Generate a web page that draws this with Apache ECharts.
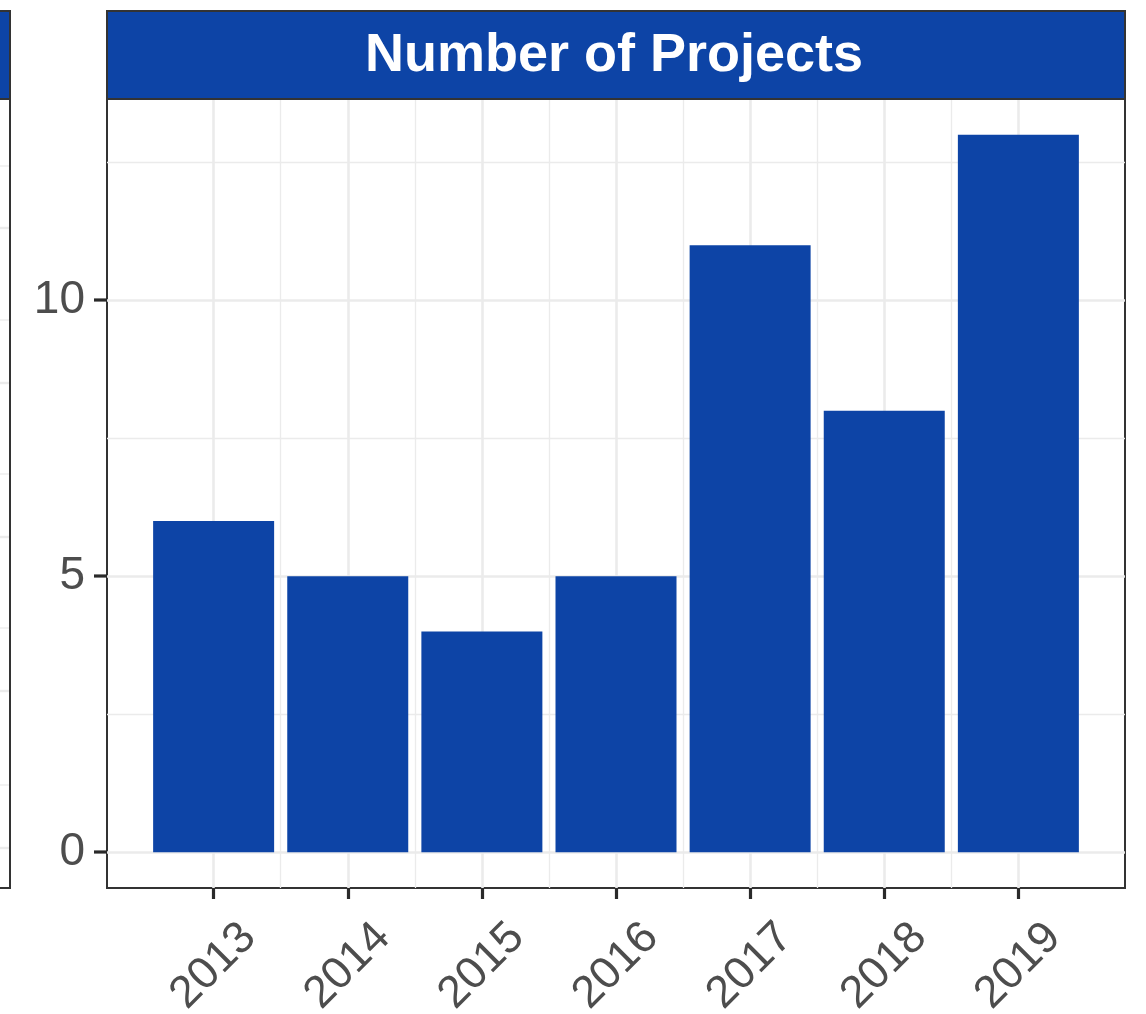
<!DOCTYPE html>
<html>
<head>
<meta charset="utf-8">
<script src="https://cdn.jsdelivr.net/npm/echarts@6/dist/echarts.min.js"></script>
<style>
html,body{margin:0;padding:0;background:#fff;}
#c{width:1146px;height:1014px;}
</style>
</head>
<body>
<div id="c"></div>
<script>
const title = 'Number of Projects';
const years = [2013, 2014, 2015, 2016, 2017, 2018, 2019];
const projects = [6, 5, 4, 5, 11, 8, 13];
const yTicks = [0, 5, 10];
const yMinor = [2.5, 7.5, 12.5];
const xMinor = [2013.5, 2014.5, 2015.5, 2016.5, 2017.5, 2018.5];
const leftPanelGridY = [166, 228, 320, 383, 474, 537, 628, 691, 785, 848];

const chart = echarts.init(document.getElementById('c'), null, {renderer: 'canvas'});
const blue = '#0D44A6';
const gridCol = '#EBEBEB';
const font = '"Liberation Sans", Arial, Helvetica, sans-serif';

const gridLines = [];
yTicks.forEach(v => gridLines.push({yAxis: v, lineStyle: {color: gridCol, width: 2.6, type: 'solid'}}));
yMinor.forEach(v => gridLines.push({yAxis: v, lineStyle: {color: gridCol, width: 1.3, type: 'solid'}}));
years.forEach(v => gridLines.push({xAxis: v, lineStyle: {color: gridCol, width: 2.6, type: 'solid'}}));
xMinor.forEach(v => gridLines.push({xAxis: v, lineStyle: {color: gridCol, width: 1.3, type: 'solid'}}));

const graphics = [
  {type: 'rect', shape: {x: 107, y: 11, width: 1018, height: 88}, style: {fill: blue, stroke: '#333', lineWidth: 2}, z: 100},
  {type: 'text', x: 614, y: 56, style: {text: title, fill: '#fff', font: 'bold 54px ' + font, align: 'center', verticalAlign: 'middle'}, z: 101},
  {type: 'rect', shape: {x: -5, y: 11, width: 15, height: 88}, style: {fill: blue, stroke: '#333', lineWidth: 2}, z: 100}
];
leftPanelGridY.forEach((y, i) => graphics.push({type: 'line', shape: {x1: 0, y1: y, x2: 10, y2: y}, style: {stroke: gridCol, lineWidth: i % 2 ? 2.4 : 1.3}, z: 99}));
graphics.push({type: 'rect', shape: {x: -5, y: 99, width: 15, height: 789}, style: {fill: 'none', stroke: '#333', lineWidth: 2}, z: 100});

chart.setOption({
  animation: false,
  backgroundColor: '#fff',
  grid: {left: 107, right: 21, top: 99, bottom: 126, outerBoundsMode: 'none', containLabel: false,
    show: true, backgroundColor: '#fff', borderColor: '#333', borderWidth: 2},
  xAxis: {
    type: 'value', min: 2012.205, max: 2019.795,
    axisLine: {show: false, onZero: false},
    splitLine: {show: false},
    axisTick: {show: true, inside: false, customValues: years, length: 11, lineStyle: {color: '#2A2A2A', width: 3.2}},
    axisLabel: {customValues: years, rotate: 45, align: 'center', verticalAlign: 'middle', margin: 78,
      color: '#4D4D4D', fontSize: 45, fontFamily: font, formatter: v => String(Math.round(v))}
  },
  yAxis: {
    type: 'value', min: -0.65, max: 13.65,
    axisLine: {show: false, onZero: false},
    splitLine: {show: false},
    axisTick: {show: false},
    axisLabel: {customValues: yTicks, margin: 22, color: '#4D4D4D', fontSize: 46, fontFamily: font,
      formatter: v => String(Math.round(v))}
  },
  graphic: graphics,
  series: [
    {
      type: 'line', z: 1, silent: true, symbol: 'none',
      data: years.map((y, i) => [y, projects[i]]),
      lineStyle: {width: 0, opacity: 0},
      markLine: {silent: true, symbol: 'none', z: 1, animation: false, label: {show: false}, data: gridLines}
    },
    {
      type: 'bar', z: 10, barWidth: 121,
      data: years.map((y, i) => [y, projects[i]]),
      itemStyle: {color: blue}
    }
  ]
});

// y-axis tick marks, positioned through the axis scale
const x0 = chart.convertToPixel({xAxisIndex: 0}, 2012.205);
const tickGraphics = yTicks.map(v => {
  const py = Math.round(chart.convertToPixel({yAxisIndex: 0}, v));
  return {type: 'rect', shape: {x: x0 - 13, y: py - 1.6, width: 13, height: 3.2}, style: {fill: '#2A2A2A'}, z: 200};
});
chart.setOption({graphic: graphics.concat(tickGraphics)}, {replaceMerge: ['graphic']});
</script>
</body>
</html>
